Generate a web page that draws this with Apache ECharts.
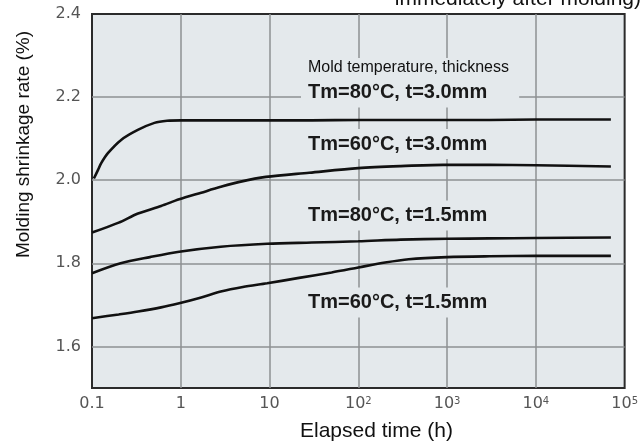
<!DOCTYPE html>
<html>
<head>
<meta charset="utf-8">
<script src="https://cdn.jsdelivr.net/npm/echarts@6/dist/echarts.min.js"></script>
<style>
  html, body { margin: 0; padding: 0; background: #ffffff; }
  #chart { width: 641px; height: 448px; }
</style>
</head>
<body>
<div id="chart"></div>
<script>
// Elapsed time (h) on a log scale, shrinkage rate (%) per molding condition
const seriesNames = ['Tm=80°C, t=3.0mm', 'Tm=60°C, t=3.0mm', 'Tm=80°C, t=1.5mm', 'Tm=60°C, t=1.5mm'];

const hours80t30 = [0.105, 0.117, 0.127, 0.151, 0.213, 0.328, 0.505, 0.7, 1, 3, 10, 30, 100, 300, 1000, 3000, 10000, 30000, 70000];
const rate80t30  = [2.004, 2.025, 2.041, 2.065, 2.097, 2.121, 2.138, 2.143, 2.144, 2.144, 2.144, 2.144, 2.145, 2.145, 2.145, 2.145, 2.146, 2.146, 2.146];

const hours60t30 = [0.1, 0.2, 0.33, 0.6, 0.96, 1.7, 2.82, 4.6, 9.1, 28, 100, 300, 900, 3000, 10000, 70000];
const rate60t30  = [1.874, 1.898, 1.920, 1.938, 1.954, 1.970, 1.984, 1.996, 2.008, 2.018, 2.029, 2.034, 2.037, 2.037, 2.036, 2.033];

const hours80t15 = [0.1, 0.21, 0.45, 0.96, 2.82, 9.4, 30, 100, 300, 1000, 3000, 10000, 70000];
const rate80t15  = [1.776, 1.800, 1.815, 1.828, 1.840, 1.847, 1.850, 1.853, 1.857, 1.859, 1.860, 1.861, 1.862];

const hours60t15 = [0.1, 0.2, 0.33, 0.6, 0.96, 1.7, 2.82, 5, 9.4, 21.5, 50, 100, 200, 370, 1000, 3000, 10000, 70000];
const rate60t15  = [1.668, 1.677, 1.684, 1.694, 1.704, 1.718, 1.732, 1.743, 1.752, 1.765, 1.778, 1.790, 1.802, 1.810, 1.815, 1.817, 1.818, 1.818];

const xTickLabels = ['0.1', '1', '10', '10{sup|2}', '10{sup|3}', '10{sup|4}', '10{sup|5}'];
const yTickLabels = ['1.6', '1.8', '2.0', '2.2', '2.4'];

const captionText = 'immediately after molding)';
const legendTitle = 'Mold temperature, thickness';
const xTitle = 'Elapsed time (h)';
const yTitle = 'Molding shrinkage rate (%)';

const PLOT_BG = '#e4e9ec';
const GRID_COLOR = '#8e9193';

function pairs(xs, ys) { return xs.map((x, i) => [x, ys[i]]); }

const curveData = [
  pairs(hours80t30, rate80t30),
  pairs(hours60t30, rate60t30),
  pairs(hours80t15, rate80t15),
  pairs(hours60t15, rate60t15)
];

const chart = echarts.init(document.getElementById('chart'), null, { renderer: 'canvas' });

const labelFont = 'bold 20px "Liberation Sans", Arial, sans-serif';
const labelCenters = [92.5, 144, 215.5, 302.5];

function annotation(text, y) {
  return {
    type: 'text', left: 301, top: y - 15, z: 50,
    style: {
      text: text, font: labelFont, fill: '#1a1a1a',
      backgroundColor: PLOT_BG, padding: [5, 32, 5, 7]
    }
  };
}

chart.setOption({
  animation: false,
  backgroundColor: '#ffffff',
  grid: {
    left: 92, right: 14, top: 14, bottom: 60,
    show: true, backgroundColor: PLOT_BG, borderColor: '#2b2b2b', borderWidth: 2
  },
  xAxis: {
    type: 'log', logBase: 10, min: 0.1, max: 100000, interval: 1,
    axisLine: { show: false }, axisTick: { show: false },
    splitLine: { show: true, showMinLine: false, showMaxLine: false, lineStyle: { color: GRID_COLOR, width: 1.5 } },
    minorSplitLine: { show: false },
    axisLabel: {
      margin: 8, color: '#555', fontFamily: '"DejaVu Sans", sans-serif', fontSize: 16,
      formatter: function (v) {
        const k = Math.round(Math.log10(v)) + 1;
        return xTickLabels[k] !== undefined ? xTickLabels[k] : '';
      },
      rich: {
        sup: { fontSize: 10, fontFamily: '"DejaVu Sans", sans-serif', color: '#555', verticalAlign: 'top', padding: [0, 0, 6, 0] }
      }
    }
  },
  yAxis: {
    type: 'value', min: 1.5, max: 2.4, interval: 0.1,
    axisLine: { show: false }, axisTick: { show: false },
    splitLine: { show: true, showMaxLine: false, lineStyle: { color: ['rgba(0,0,0,0)', GRID_COLOR], width: 1.5 } },
    axisLabel: {
      margin: 11, color: '#555', fontFamily: '"DejaVu Sans", sans-serif', fontSize: 16,
      formatter: function (v) {
        const s = v.toFixed(1);
        return yTickLabels.indexOf(s) >= 0 ? s : '';
      }
    }
  },
  series: curveData.map((d, i) => ({
    name: seriesNames[i], type: 'line', data: d, showSymbol: false, symbol: 'none',
    smooth: 0.3, z: 5,
    lineStyle: { color: '#111', width: 2.6 }
  })),
  graphic: [
    { type: 'text', right: 0, top: -11, style: { text: captionText, font: '21px "Liberation Sans", Arial, sans-serif', fill: '#111' } },
    { type: 'text', left: 308, top: 58, z: 49, style: { text: legendTitle, font: '16px "Liberation Sans", Arial, sans-serif', fill: '#111', backgroundColor: PLOT_BG, padding: [2, 20, 2, 0] } },
    annotation(seriesNames[0], labelCenters[0]),
    annotation(seriesNames[1], labelCenters[1]),
    annotation(seriesNames[2], labelCenters[2]),
    annotation(seriesNames[3], labelCenters[3]),
    { type: 'text', left: 300, top: 421, style: { text: xTitle, font: '21px "Liberation Sans", Arial, sans-serif', fill: '#111' } },
    { type: 'text', x: 24, y: 144.5, rotation: Math.PI / 2,
      style: { text: yTitle, font: '19px "Liberation Sans", Arial, sans-serif', fill: '#111', align: 'center', verticalAlign: 'middle' } }
  ]
});
</script>
</body>
</html>
